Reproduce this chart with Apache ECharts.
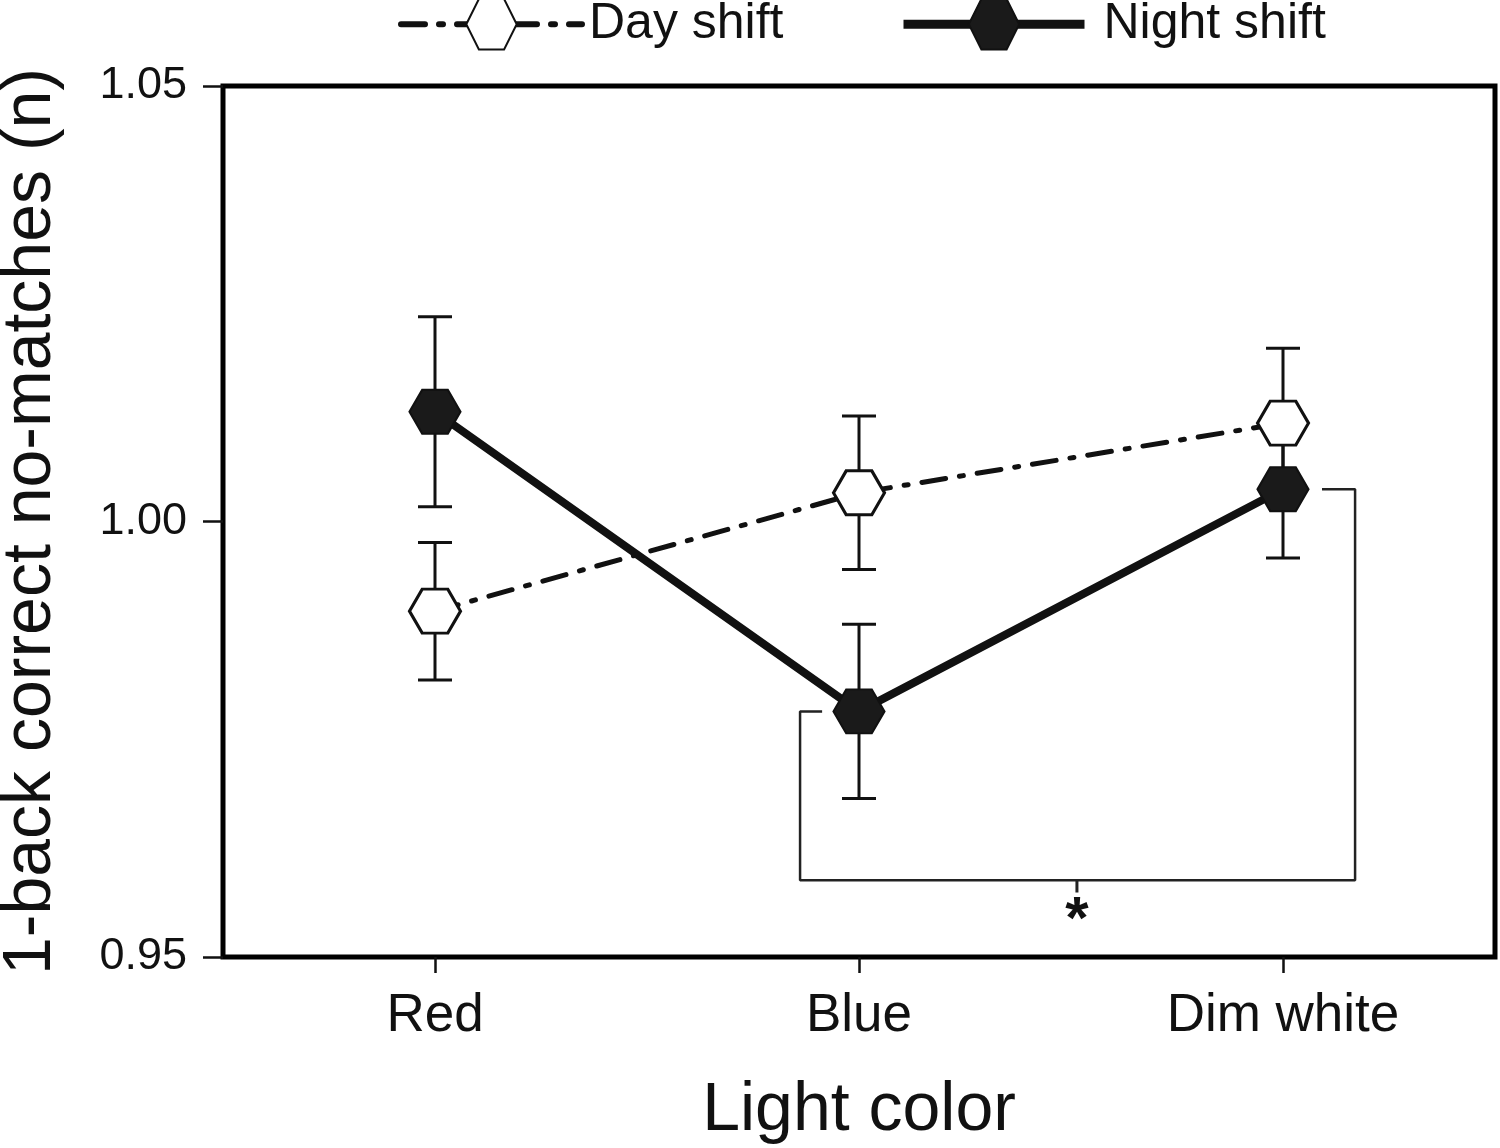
<!DOCTYPE html>
<html>
<head>
<meta charset="utf-8">
<script src="https://cdn.jsdelivr.net/npm/echarts@6/dist/echarts.min.js"></script>
<style>html,body{margin:0;padding:0;background:#fff;}#c{width:1500px;height:1148px;}</style>
</head>
<body>
<div id="c"></div>
<script>
// ---- data ----
var categories = ['Red', 'Blue', 'Dim white'];
var dayMean   = [0.9897, 1.0033, 1.0113];
var dayErr    = [0.0079, 0.0088, 0.0086];
var nightMean = [1.0126, 0.9782, 1.0037];
var nightErr  = [0.0109, 0.0100, 0.0079];
var yTicks = [0.95, 1.00, 1.05];
// significance bracket between Blue and Dim white (night shift)
var bracketX = [0.913, 0.861, 0.861, 2.170, 2.170, 2.092];
var bracketY = [nightMean[1], nightMean[1], 0.9588, 0.9588, nightMean[2], nightMean[2]];
var starX = 1.514, starY = 0.9541, starTickBottom = 0.9574;

var FONT = '"Liberation Sans", Arial, Helvetica, sans-serif';
var INK = '#111';
var hexPath = 'path://M0,0.866 L0.5,0 L1.5,0 L2,0.866 L1.5,1.732 L0.5,1.732 Z';

function pairs(ys){ return ys.map(function(v,i){ return [i, v]; }); }
function errRows(m, e){ return m.map(function(v,i){ return [i, v - e[i], v + e[i]]; }); }

var errorRender = function(params, api){
  var x = api.value(0);
  var lo = api.coord([x, api.value(1)]);
  var hi = api.coord([x, api.value(2)]);
  var hw = 17;
  var st = {stroke: '#111', lineWidth: 3};
  return {type: 'group', children: [
    {type: 'line', shape: {x1: lo[0], y1: lo[1], x2: hi[0], y2: hi[1]}, style: st},
    {type: 'line', shape: {x1: lo[0]-hw, y1: lo[1], x2: lo[0]+hw, y2: lo[1]}, style: st},
    {type: 'line', shape: {x1: hi[0]-hw, y1: hi[1], x2: hi[0]+hw, y2: hi[1]}, style: st}
  ]};
};

var chart = echarts.init(document.getElementById('c'), null, {renderer: 'canvas'});
chart.setOption({
  animation: false,
  backgroundColor: '#fff',
  grid: {left: 223, right: 5, top: 86, bottom: 191, show: true, borderColor: '#000', borderWidth: 5,
         backgroundColor: 'transparent', containLabel: false, outerBoundsMode: 'none'},
  legend: [
    {data: ['Day shift'], left: 393, top: -7, itemWidth: 181, itemHeight: 63,
     lineStyle: {width: 6},
     textStyle: {fontSize: 50, color: INK, fontFamily: FONT, padding: [8,0,0,2]}},
    {data: ['Night shift'], left: 894, top: -7, itemWidth: 181, itemHeight: 63,
     lineStyle: {width: 9},
     textStyle: {fontSize: 50, color: INK, fontFamily: FONT, padding: [8,0,0,14]}}
  ],
  xAxis: [
    {type: 'category', data: categories, boundaryGap: true,
     axisLine: {show: false, onZero: false},
     axisTick: {show: true, alignWithLabel: true, length: 16, lineStyle: {color: '#111', width: 2.5}},
     axisLabel: {fontSize: 53, color: INK, fontFamily: FONT, margin: 33},
     name: 'Light color', nameLocation: 'middle', nameGap: 120,
     nameTextStyle: {fontSize: 68, color: INK, fontFamily: FONT}},
    {type: 'value', min: -0.5, max: 2.5, show: false}
  ],
  yAxis: {type: 'value', min: yTicks[0], max: yTicks[yTicks.length-1], interval: 0.05,
    axisLine: {show: false, onZero: false},
    splitLine: {show: false},
    axisTick: {show: true, length: 20, lineStyle: {color: '#111', width: 2.5}},
    axisLabel: {fontSize: 45, color: INK, fontFamily: FONT, margin: 36,
      formatter: function(v){ return v.toFixed(2); }},
    name: '1-back correct no-matches (n)', nameLocation: 'middle', nameGap: 158,
    nameTextStyle: {fontSize: 68, color: INK, fontFamily: FONT}
  },
  series: [
    {name: 'dayErr', type: 'custom', xAxisIndex: 1, z: 1, renderItem: errorRender, data: errRows(dayMean, dayErr)},
    {name: 'nightErr', type: 'custom', xAxisIndex: 1, z: 1, renderItem: errorRender, data: errRows(nightMean, nightErr)},
    {name: 'bracket', type: 'line', xAxisIndex: 1, z: 1, symbol: 'none', silent: true,
     lineStyle: {color: '#222', width: 2.5},
     data: bracketX.map(function(x,i){ return [x, bracketY[i]]; })},
    {name: 'starTick', type: 'line', xAxisIndex: 1, z: 1, symbol: 'none', silent: true,
     lineStyle: {color: '#222', width: 3},
     data: [[starX, bracketY[2]], [starX, starTickBottom]]},
    {name: 'star', type: 'custom', xAxisIndex: 1, z: 1, silent: true,
     renderItem: function(params, api){
       var p = api.coord([api.value(0), api.value(1)]);
       return {type: 'text', style: {text: '*', x: p[0], y: p[1], align: 'center', verticalAlign: 'middle',
         font: 'bold 60px ' + FONT, fill: '#111'}};
     },
     data: [[starX, starY]]},
    {name: 'Night shift', type: 'line', xAxisIndex: 1, z: 3,
     data: pairs(nightMean),
     symbol: hexPath, symbolSize: [51, 44], symbolKeepAspect: false,
     itemStyle: {color: '#1a1a1a', borderColor: '#111', borderWidth: 2},
     lineStyle: {color: '#111', width: 8, type: 'solid'}},
    {name: 'Day shift', type: 'line', xAxisIndex: 1, z: 4,
     data: pairs(dayMean),
     symbol: hexPath, symbolSize: [51, 44], symbolKeepAspect: false,
     itemStyle: {color: '#fff', borderColor: '#111', borderWidth: 3},
     lineStyle: {color: '#111', width: 5, type: [24, 14, 4, 14], cap: 'round'}}
  ]
});
</script>
</body>
</html>
